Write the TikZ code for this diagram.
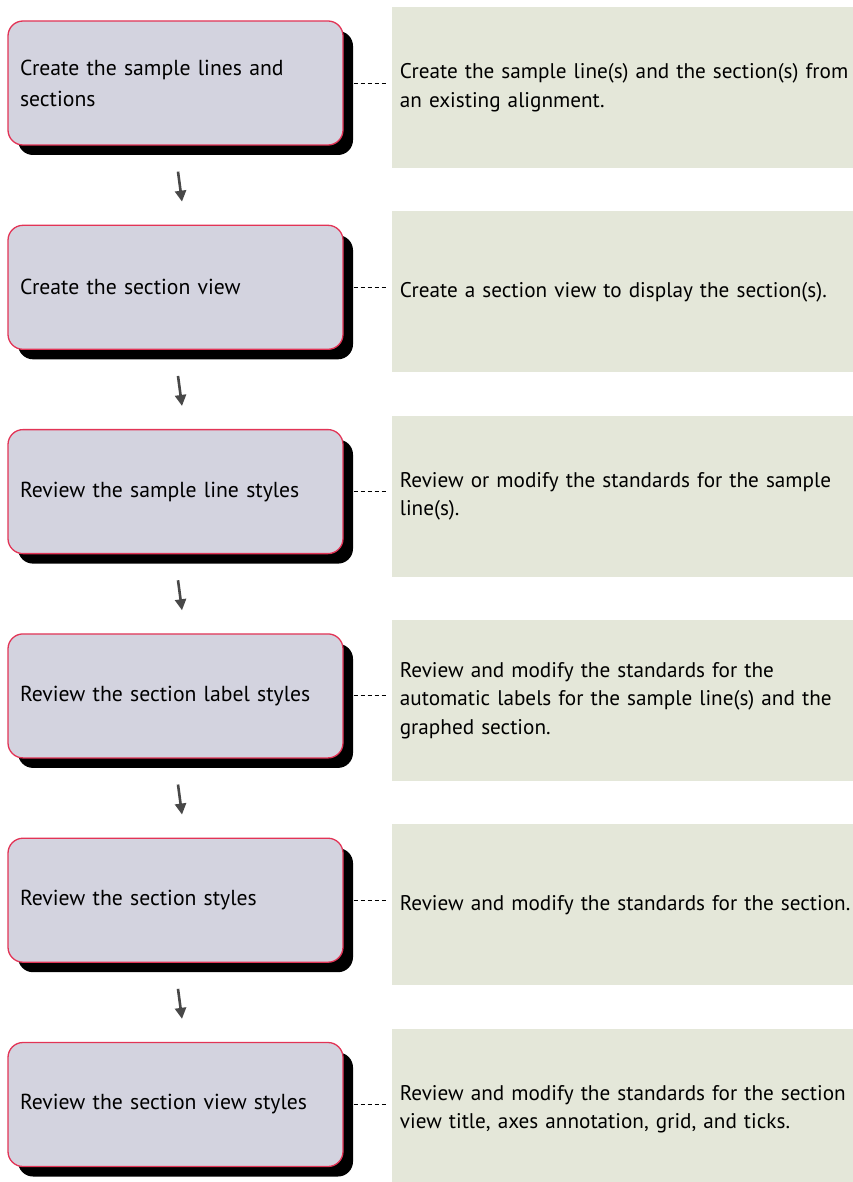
\documentclass[tikz,border=0pt]{standalone}
\usepackage{fontspec}
\setmainfont{PT Sans}
\usetikzlibrary{arrows.meta, positioning, shadows}
\definecolor{stepfill}{RGB}{211,211,223}
\definecolor{stepline}{RGB}{226,52,86}
\definecolor{notefill}{RGB}{228,231,217}
\definecolor{arrowgray}{RGB}{72,72,72}

\begin{document}
\begin{tikzpicture}[
    x=1pt, y=1pt,
    stepbox/.style={rectangle, rounded corners=15pt, draw=stepline, line width=1.3pt,
                    fill=stepfill, minimum height=124pt, text width=311pt,
                    inner xsep=12pt, align=left, font=\fontsize{21.7}{31}\selectfont,
                    drop shadow={shadow xshift=10pt, shadow yshift=-10pt,
                                 fill=black, opacity=1}},
    % notes run past the right edge of the page
    note/.style={rectangle, fill=notefill, minimum height=161pt, text width=480pt,
                 inner xsep=8pt, align=left, font=\fontsize{21.2}{28.5}\selectfont},
    flow/.style={-{Triangle[length=11pt, width=11pt]}, line width=2.6pt, arrowgray},
    link/.style={dashed, dash pattern=on 4.5pt off 2.5pt, line width=0.9pt},
    node distance=79pt
  ]
    \useasboundingbox (0,0) rectangle (852,-1182);

    % steps on the left
    \node[stepbox] (s1) at (175.5,-83) {Create the sample lines and\\sections};
    \node[stepbox, below=of s1] (s2) {Create the section view};
    \node[stepbox, below=of s2] (s3) {Review the sample line styles};
    \node[stepbox, below=of s3] (s4) {Review the section label styles};
    \node[stepbox, below=of s4] (s5) {Review the section styles};
    \node[stepbox, below=of s5] (s6) {Review the section view styles};

    % notes on the right
    \node[note, right=48pt of s1, yshift=-4.5pt] (n1)
      {Create the sample line(s) and the section(s) from\\an existing alignment.};
    \node[note, right=48pt of s2, yshift=-4.5pt] (n2)
      {Create a section view to display the section(s).};
    \node[note, right=48pt of s3, yshift=-4.5pt] (n3)
      {Review or modify the standards for the sample\\line(s).};
    \node[note, right=48pt of s4, yshift=-4.5pt] (n4)
      {Review and modify the standards for the\\automatic labels for the sample line(s) and the\\graphed section.};
    \node[note, right=48pt of s5, yshift=-4.5pt] (n5)
      {Review and modify the standards for the section.};
    \node[note, right=48pt of s6, yshift=-4.5pt] (n6)
      {Review and modify the standards for the section\\view title, axes annotation, grid, and ticks.};

    % arrows and dashed links
    \foreach \a/\b in {s1/s2, s2/s3, s3/s4, s4/s5, s5/s6}
      \draw[flow] ([xshift=2.5pt, yshift=-26pt]\a.south) -- ([xshift=6.5pt, yshift=23pt]\b.north);
    \foreach \i in {1,...,6}
      \draw[link] ([xshift=10pt]s\i.east) -- ([xshift=-3pt, yshift=4.5pt]n\i.west);
\end{tikzpicture}
\end{document}
